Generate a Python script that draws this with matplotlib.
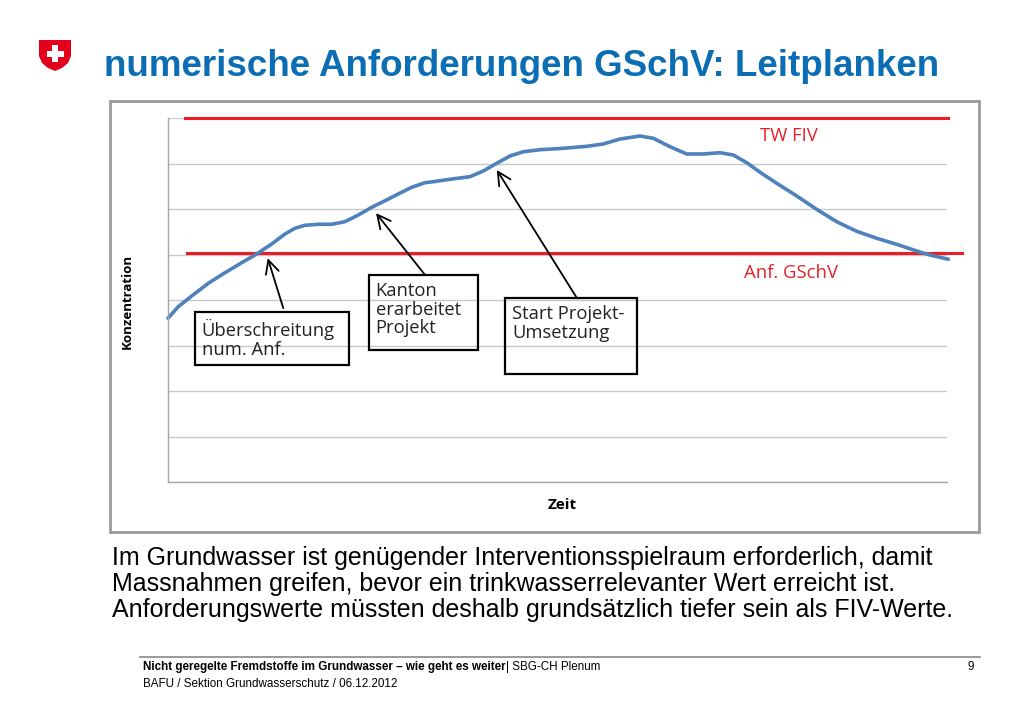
import matplotlib
matplotlib.use("Agg")
import matplotlib.pyplot as plt
from matplotlib.patches import Rectangle, Polygon

# ---- data ----
time = [0.0, 1.32, 3.04, 5.17, 7.32, 9.46, 11.39, 13.31, 15.02, 16.30, 17.59, 19.29,
        21.01, 22.72, 24.43, 26.15, 27.86, 29.56, 31.28, 32.99, 34.06, 36.20, 38.77,
        40.47, 42.19, 43.90, 45.61, 47.75, 50.74, 53.75, 55.88, 58.02, 60.59, 62.30,
        64.44, 66.59, 68.72, 70.86, 72.57, 74.29, 76.00, 78.14, 80.71, 83.27, 85.84,
        88.41, 90.98, 93.54, 96.11, 97.82, 100.17]
conc = [3.60, 3.853, 4.088, 4.367, 4.600, 4.820, 5.011, 5.231, 5.451, 5.576, 5.642, 5.664,
        5.664, 5.721, 5.868, 6.037, 6.182, 6.330, 6.477, 6.578, 6.600, 6.653, 6.710,
        6.835, 7.004, 7.165, 7.259, 7.303, 7.334, 7.378, 7.429, 7.538, 7.604, 7.554,
        7.369, 7.209, 7.209, 7.237, 7.187, 7.018, 6.807, 6.565, 6.286, 5.993, 5.721,
        5.510, 5.356, 5.224, 5.077, 4.989, 4.895]
tw_fiv = 8.0
anf_gschv = 5.03
limit_labels = ["TW FIV", "Anf. GSchV"]
box_texts = ["Überschreitung\nnum. Anf.", "Kanton\nerarbeitet\nProjekt", "Start Projekt-\nUmsetzung"]
y_ticks = [0, 1, 2, 3, 4, 5, 6, 7, 8]

W, H = 1023, 708
fig = plt.figure(figsize=(W / 100, H / 100), dpi=100)

# overlay axes in pixel coordinates
ov = fig.add_axes([0, 0, 1, 1])
ov.set_xlim(0, W)
ov.set_ylim(H, 0)
ov.axis("off")

# chart frame
ov.add_patch(Rectangle((110, 101), 869, 431, fill=False, edgecolor="#9a9a9a", lw=2))

# logo
shield = Polygon([(39, 40), (71, 40), (71, 56), (68, 63), (62, 68), (55, 71),
                  (48, 68), (42, 63), (39, 56)], closed=True, facecolor="#e3001b",
                 edgecolor="none")
ov.add_patch(shield)
ov.add_patch(Rectangle((52, 45), 6, 17, facecolor="white", edgecolor="none"))
ov.add_patch(Rectangle((46.5, 50.5), 17, 6, facecolor="white", edgecolor="none"))

# title
ov.text(104, 76, "numerische Anforderungen GSchV: Leitplanken", fontsize=26.5,
        fontweight="bold", color="#0b6db3", family="Liberation Sans", va="baseline",
        ha="left")

# body text
body = ["Im Grundwasser ist genügender Interventionsspielraum erforderlich, damit",
        "Massnahmen greifen, bevor ein trinkwasserrelevanter Wert erreicht ist.",
        "Anforderungswerte müssten deshalb grundsätzlich tiefer sein als FIV-Werte."]
for i, line in enumerate(body):
    ov.text(112, 565 + i * 26, line, fontsize=18.0, family="Liberation Sans",
            va="baseline", ha="left", color="black")

# footer
ov.plot([140, 980], [657, 657], color="#888888", lw=1.2)
t1 = ov.text(143, 670, "Nicht geregelte Fremdstoffe im Grundwasser – wie geht es weiter",
             fontsize=8.4, fontweight="bold", family="Liberation Sans", va="baseline",
             ha="left")
fig.canvas.draw()
xend = t1.get_window_extent().x1
ov.annotate("| SBG-CH Plenum", xy=(xend, H - 670), xycoords="figure pixels",
            fontsize=8.4, family="Liberation Sans", va="baseline", ha="left")
ov.text(143, 687, "BAFU / Sektion Grundwasserschutz / 06.12.2012", fontsize=8.4,
        family="Liberation Sans", va="baseline", ha="left")
ov.text(974, 670, "9", fontsize=8.4, family="Liberation Sans", va="baseline", ha="right")

# axis titles
ov.text(127, 301, "Konzentration", fontsize=9.5, fontweight="bold", family="Open Sans",
        rotation=90, ha="center", va="center")
ov.text(562, 505, "Zeit", fontsize=11, fontweight="bold", family="Open Sans",
        ha="center", va="center")

# chart axes
left, right, top, bottom = 168, 947, 118, 482
ax = fig.add_axes([left / W, 1 - bottom / H, (right - left) / W, (bottom - top) / H])
ax.set_xlim(0, 100)
ax.set_ylim(0, 8)
ax.set_yticks(y_ticks)
ax.set_yticklabels([])
ax.set_xticks([])
ax.tick_params(axis="y", length=0)
ax.grid(axis="y", color="#c8c8c8", lw=1)
ax.set_axisbelow(True)
for s in ["top", "right"]:
    ax.spines[s].set_visible(False)
for s in ["left", "bottom"]:
    ax.spines[s].set_color("#a6a6a6")
    ax.spines[s].set_linewidth(1)
ax.patch.set_alpha(0)

ax.plot([2.2, 100.1], [tw_fiv, tw_fiv], color="#ee1c25", lw=2.2, clip_on=False)
ax.plot([2.4, 101.9], [anf_gschv, anf_gschv], color="#ee1c25", lw=2.2, clip_on=False)
ax.plot(time, conc, color="#4f81bd", lw=2.6, clip_on=False, solid_capstyle="round",
        solid_joinstyle="round")

ax.text(79.7, 7.60, limit_labels[0], color="#e8202a", fontsize=13.3, family="Open Sans",
        ha="center", va="center")
ax.text(80.0, 4.60, limit_labels[1], color="#e8202a", fontsize=13.3, family="Open Sans",
        ha="center", va="center")

boxes = [(3.47, 2.57, 19.8, 1.17), (25.8, 2.90, 14.0, 1.65), (43.3, 2.37, 16.9, 1.67)]
arrows = [((14.8, 3.82), (12.8, 4.92)), ((33.0, 4.55), (26.7, 5.91)),
          ((52.5, 4.04), (42.2, 6.86))]
for (bx, by, bw, bh), txt, (tail, head) in zip(boxes, box_texts, arrows):
    ax.add_patch(Rectangle((bx, by), bw, bh, fill=False, edgecolor="black", lw=1.6,
                           clip_on=False))
    ax.text(bx + 0.85, by + bh - 0.16, txt, fontsize=13.2, family="Open Sans", va="top",
            ha="left", color="#222222", linespacing=1.04)
    ax.annotate("", xy=head, xytext=tail,
                arrowprops=dict(arrowstyle="->", color="black", lw=1.3,
                                mutation_scale=24, shrinkA=0, shrinkB=0))

fig.savefig("out.png", dpi=100)
